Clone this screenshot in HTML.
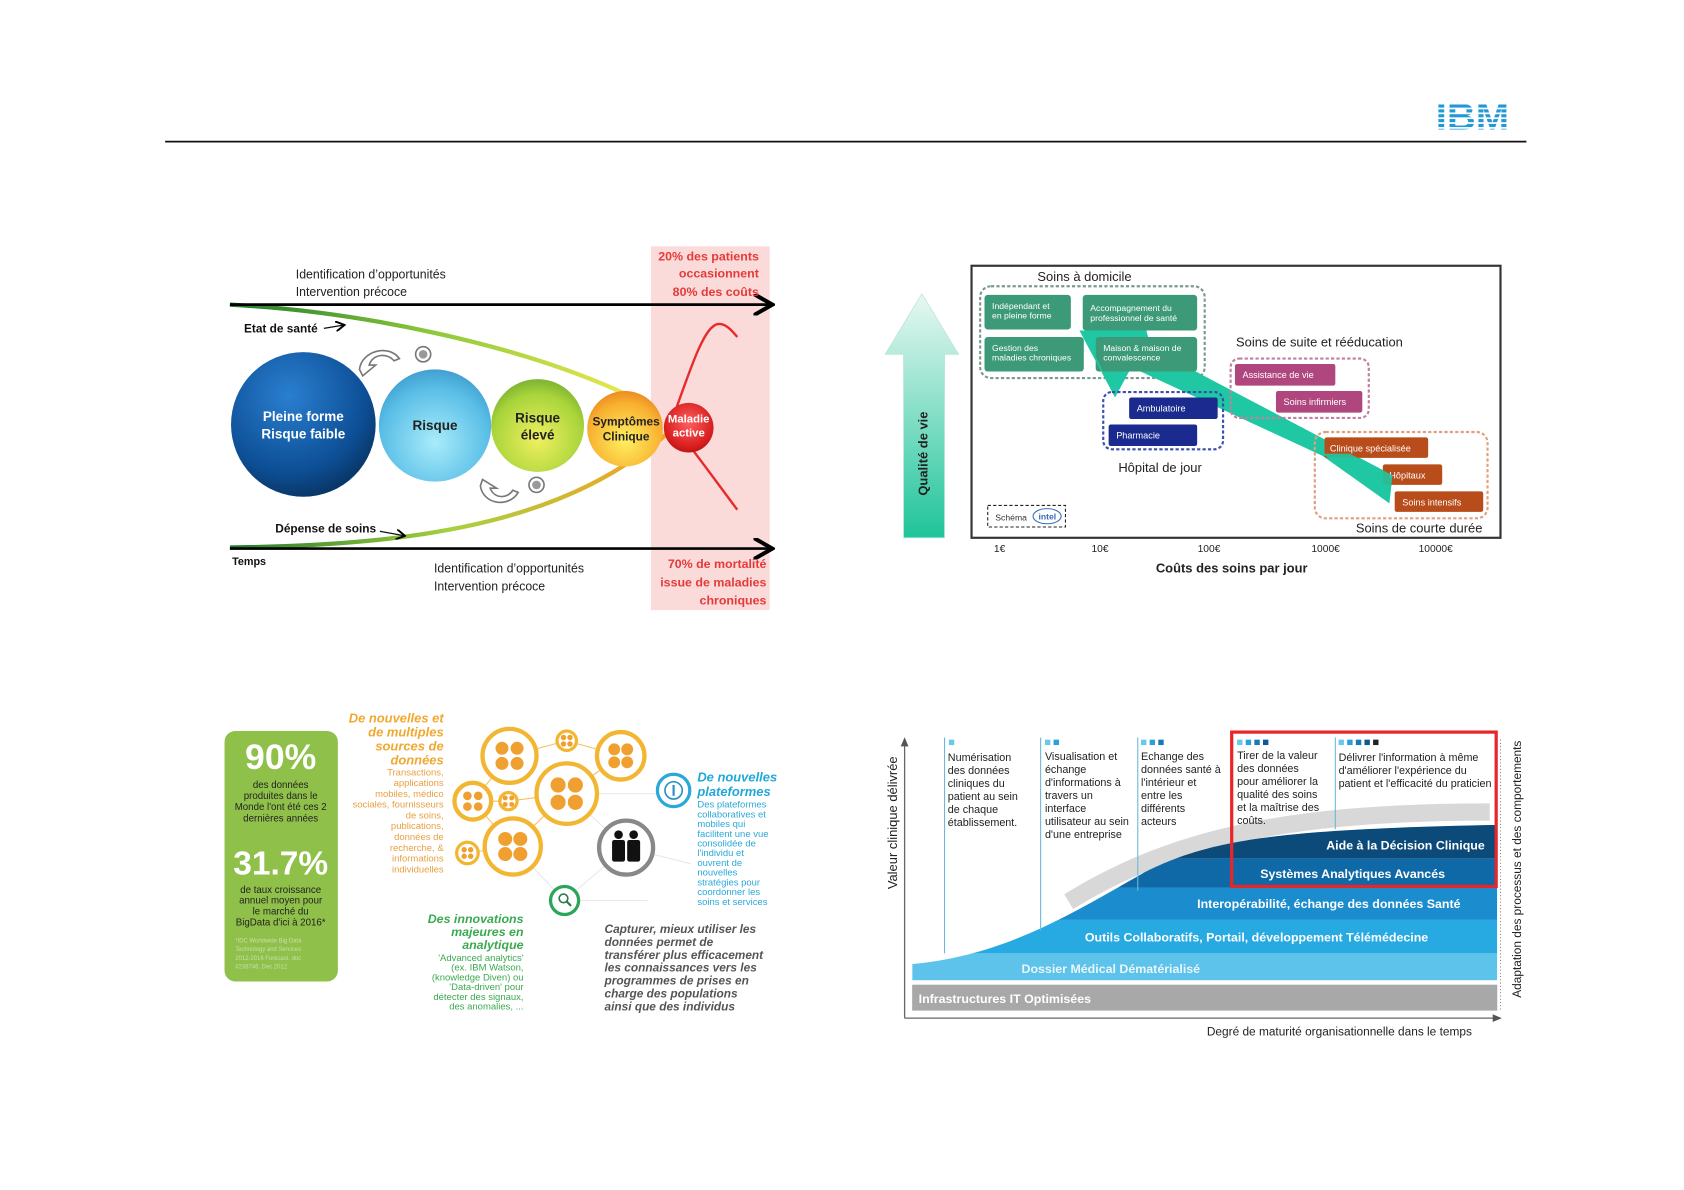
<!DOCTYPE html>
<html><head><meta charset="utf-8"><style>
html,body{margin:0;padding:0;background:#fff;}
svg{display:block;font-family:"Liberation Sans",sans-serif;}
</style></head><body>
<svg width="1684" height="1190" viewBox="0 0 1560 1102" xmlns="http://www.w3.org/2000/svg">
<defs>
<radialGradient id="gb1" cx="40%" cy="30%" r="75%"><stop offset="0" stop-color="#2a7fd0"/><stop offset="0.7" stop-color="#0d4f96"/><stop offset="1" stop-color="#08325f"/></radialGradient>
<radialGradient id="gb2" cx="50%" cy="65%" r="70%"><stop offset="0" stop-color="#a8ecfa"/><stop offset="0.7" stop-color="#58bde6"/><stop offset="1" stop-color="#3a96c8"/></radialGradient>
<radialGradient id="gb3" cx="50%" cy="65%" r="70%"><stop offset="0" stop-color="#f0f060"/><stop offset="0.7" stop-color="#a8d43a"/><stop offset="1" stop-color="#70a830"/></radialGradient>
<radialGradient id="gb4" cx="50%" cy="65%" r="70%"><stop offset="0" stop-color="#fff060"/><stop offset="0.7" stop-color="#f8b030"/><stop offset="1" stop-color="#e88020"/></radialGradient>
<radialGradient id="gb5" cx="50%" cy="40%" r="70%"><stop offset="0" stop-color="#ff6060"/><stop offset="0.7" stop-color="#d81e1e"/><stop offset="1" stop-color="#a01010"/></radialGradient>
<linearGradient id="gtop" x1="0" x2="1"><stop offset="0" stop-color="#1e7a2a"/><stop offset="0.5" stop-color="#8cc83a"/><stop offset="1" stop-color="#e8e850"/></linearGradient>
<linearGradient id="gbot" x1="0" x2="1"><stop offset="0" stop-color="#1e7a2a"/><stop offset="0.5" stop-color="#a8d040"/><stop offset="1" stop-color="#f8a020"/></linearGradient>
<linearGradient id="garr" x1="0" y1="1" x2="0" y2="0"><stop offset="0" stop-color="#1fc49a"/><stop offset="1" stop-color="#e8f8f2"/></linearGradient>
<clipPath id="area"><path d="M845,893 C930,885 990,848 1060,808 C1120,778 1180,768 1387,764 L1387,908 L845,908 Z"/></clipPath>
<marker id="ah" markerWidth="8" markerHeight="8" refX="6" refY="4" orient="auto"><path d="M0,0 L7,4 L0,8" fill="none" stroke="#000" stroke-width="1.5"/></marker>
<marker id="ah2" markerWidth="8" markerHeight="8" refX="6" refY="4" orient="auto"><path d="M0,1 L7,4 L0,7 Z" fill="#555"/></marker>
</defs>

<line x1="153" y1="131" x2="1414" y2="131" stroke="#111" stroke-width="1.6"/>
<text x="1364" y="120" text-anchor="middle" font-weight="bold" font-size="34" fill="#1f9ad6" textLength="68" lengthAdjust="spacingAndGlyphs">IBM</text>
<g fill="#fff"><rect x="1325" y="95" width="80" height="1.6"/><rect x="1325" y="99.5" width="80" height="1.6"/><rect x="1325" y="104" width="80" height="1.6"/><rect x="1325" y="108.5" width="80" height="1.6"/><rect x="1325" y="113" width="80" height="1.6"/><rect x="1325" y="117.5" width="80" height="1.6"/></g>

<rect x="603" y="228" width="110" height="337" fill="#fbdada"/>
<path d="M213,282 C330,288 480,318 582,366" fill="none" stroke="url(#gtop)" stroke-width="4"/>
<path d="M213,507 C400,505 530,480 622,398" fill="none" stroke="url(#gbot)" stroke-width="4"/>
<path d="M618,402 C640,340 652,302 665,300 C672,299 678,306 683,312" fill="none" stroke="#e82a2a" stroke-width="2.2"/>
<path d="M618,386 C645,420 665,448 683,472" fill="none" stroke="#e82a2a" stroke-width="2.2"/>
<line x1="213" y1="282" x2="713" y2="282" stroke="#000" stroke-width="2.5" marker-end="url(#ah)"/>
<line x1="213" y1="508" x2="713" y2="508" stroke="#000" stroke-width="2.5" marker-end="url(#ah)"/>
<g font-size="12" fill="#222">
<text x="274" y="258" textLength="139" lengthAdjust="spacingAndGlyphs">Identification d’opportunités</text><text x="274" y="274" textLength="103" lengthAdjust="spacingAndGlyphs">Intervention précoce</text>
<text x="402" y="530" textLength="139" lengthAdjust="spacingAndGlyphs">Identification d’opportunités</text><text x="402" y="547" textLength="103" lengthAdjust="spacingAndGlyphs">Intervention précoce</text>
</g>
<g font-size="11.5" font-weight="bold" fill="#e53a3a" text-anchor="end">
<text x="703" y="241">20% des patients</text><text x="703" y="257">occasionnent</text><text x="703" y="274">80% des coûts</text>
<text x="710" y="526">70% de mortalité</text><text x="710" y="543">issue de maladies</text><text x="710" y="560">chroniques</text>
</g>
<g font-size="11" font-weight="bold" fill="#111">
<text x="226" y="308">Etat de santé</text><text x="255" y="493">Dépense de soins</text><text x="215" y="523" font-size="10">Temps</text>
</g>
<path d="M300,304 L318,301" stroke="#111" stroke-width="1.2" marker-end="url(#ah)"/>
<path d="M352,492 L374,496" stroke="#111" stroke-width="1.2" marker-end="url(#ah)"/>
<circle cx="281" cy="393" r="67" fill="url(#gb1)"/>
<circle cx="403" cy="394" r="52" fill="url(#gb2)"/>
<circle cx="498" cy="394" r="43" fill="url(#gb3)"/>
<circle cx="579" cy="397" r="35" fill="url(#gb4)"/>
<circle cx="638" cy="396" r="23" fill="url(#gb5)"/>
<g font-weight="bold" text-anchor="middle">
<text x="281" y="390" font-size="12.5" fill="#fff">Pleine forme</text><text x="281" y="406" font-size="12.5" fill="#fff">Risque faible</text>
<text x="403" y="398" font-size="12.5" fill="#222">Risque</text>
<text x="498" y="391" font-size="12.5" fill="#222">Risque</text><text x="498" y="407" font-size="12.5" fill="#222">élevé</text>
<text x="580" y="394" font-size="11" fill="#222">Symptômes</text><text x="580" y="408" font-size="11" fill="#222">Clinique</text>
<text x="638" y="391" font-size="10.5" fill="#fff">Maladie</text><text x="638" y="404" font-size="10.5" fill="#fff">active</text>
</g>
<g fill="none" stroke="#777" stroke-width="1.5">
<path d="M333,342 C335,325 360,318 370,332 L365,334 C358,326 345,328 342,338 L348,338 L336,348 Z" fill="#fff"/>
<path d="M445,450 C448,468 472,470 480,456 L475,454 C470,462 458,462 454,452 L460,452 L447,444 Z" fill="#fff"/>
<circle cx="392" cy="328" r="7"/><circle cx="497" cy="449" r="7"/>
</g>
<circle cx="392" cy="328" r="4" fill="#999"/><circle cx="497" cy="449" r="4" fill="#999"/>

<path d="M837,498 L837,328 L820,328 L854,272 L888,328 L875,328 L875,498 Z" fill="url(#garr)" stroke="#bfe6da" stroke-width="0.8"/>
<text transform="translate(859,420) rotate(-90)" text-anchor="middle" font-size="12" font-weight="bold" fill="#222">Qualité de vie</text>
<rect x="900" y="246" width="490" height="252" fill="none" stroke="#333" stroke-width="2"/>
<text x="961" y="260" font-size="12" fill="#222">Soins à domicile</text>
<rect x="908" y="265" width="208" height="85" rx="10" fill="none" stroke="#7a9a90" stroke-width="2" stroke-dasharray="3,2"/>
<polygon points="1000,306 1062,306 1066,322 1290,440 1287,466 1225,422 1048,340 1033,368" fill="#1fc8a2"/>
<g fill="#3d9a78">
<rect x="912" y="273" width="80" height="32" rx="3"/><rect x="1003" y="273" width="106" height="33" rx="3"/>
<rect x="912" y="312" width="92" height="32" rx="3"/><rect x="1015" y="312" width="94" height="32" rx="3"/>
</g>
<polygon points="1000,306 1040,306 1040,312 1015,312 1015,330 1033,368" fill="#1fc8a2"/>
<g font-size="8" fill="#fff">
<text x="919" y="286">Indépendant et</text><text x="919" y="295">en pleine forme</text>
<text x="1010" y="288">Accompagnement du</text><text x="1010" y="297">professionnel de santé</text>
<text x="919" y="325">Gestion des</text><text x="919" y="334">maladies chroniques</text>
<text x="1022" y="325">Maison &amp; maison de</text><text x="1022" y="334">convalescence</text>
</g>
<rect x="1022" y="363" width="111" height="53" rx="8" fill="none" stroke="#3a50b0" stroke-width="2" stroke-dasharray="3,2"/>
<rect x="1046" y="368" width="82" height="20" rx="2" fill="#1a2a8e"/><rect x="1027" y="393" width="82" height="20" rx="2" fill="#1a2a8e"/>
<text x="1053" y="381" font-size="8.5" fill="#fff">Ambulatoire</text><text x="1034" y="406" font-size="8.5" fill="#fff">Pharmacie</text>
<text x="1036" y="437" font-size="12" fill="#222">Hôpital de jour</text>
<text x="1145" y="321" font-size="12" fill="#222">Soins de suite et rééducation</text>
<rect x="1140" y="332" width="128" height="55" rx="8" fill="none" stroke="#c080a0" stroke-width="2" stroke-dasharray="3,2"/>
<rect x="1144" y="337" width="93" height="20" rx="2" fill="#b0467e"/><rect x="1182" y="362" width="80" height="20" rx="2" fill="#b0467e"/>
<text x="1151" y="350" font-size="8.5" fill="#fff">Assistance de vie</text><text x="1189" y="375" font-size="8.5" fill="#fff">Soins infirmiers</text>
<rect x="1218" y="400" width="160" height="80" rx="10" fill="none" stroke="#e0a080" stroke-width="2" stroke-dasharray="3,2"/>
<g fill="#b84c1a"><rect x="1227" y="405" width="96" height="19" rx="2"/><rect x="1281" y="430" width="55" height="19" rx="2"/><rect x="1292" y="455" width="82" height="19" rx="2"/></g>
<g font-size="8.5" fill="#fff"><text x="1232" y="418">Clinique spécialisée</text><text x="1287" y="443">Hôpitaux</text><text x="1299" y="468">Soins intensifs</text></g>
<polygon points="1225,420 1287,466 1290,440 1250,420" fill="#1fc8a2" opacity="0.9"/>
<text x="1256" y="493" font-size="12" fill="#222">Soins de courte durée</text>
<rect x="915" y="468" width="72" height="20" fill="none" stroke="#222" stroke-width="1" stroke-dasharray="3,2"/>
<text x="922" y="482" font-size="8" fill="#333">Schéma</text>
<ellipse cx="970" cy="478" rx="13" ry="7" fill="none" stroke="#3a6ab8" stroke-width="1"/><text x="962" y="481" font-size="8" font-weight="bold" fill="#3a6ab8">intel</text>
<g font-size="9.5" fill="#222" text-anchor="middle"><text x="926" y="511">1€</text><text x="1019" y="511">10€</text><text x="1120" y="511">100€</text><text x="1228" y="511">1000€</text><text x="1330" y="511">10000€</text></g>
<text x="1141" y="530" font-size="12" font-weight="bold" fill="#222" text-anchor="middle">Coûts des soins par jour</text>

<rect x="208" y="677" width="105" height="232" rx="10" fill="#8fc04a"/>
<text x="260" y="712" font-size="33" font-weight="bold" fill="#fff" text-anchor="middle">90%</text>
<g font-size="9" fill="#222" text-anchor="middle"><text x="260" y="730">des données</text><text x="260" y="740">produites dans le</text><text x="260" y="750">Monde l'ont été ces 2</text><text x="260" y="761">dernières années</text></g>
<text x="260" y="810" font-size="31" font-weight="bold" fill="#fff" text-anchor="middle">31.7%</text>
<g font-size="9" fill="#222" text-anchor="middle"><text x="260" y="827">de taux croissance</text><text x="260" y="837">annuel moyen pour</text><text x="260" y="847">le marché du</text><text x="260" y="857">BigData d'ici à 2016*</text></g>
<g font-size="5.5" fill="#c8e0a8"><text x="218" y="873">*IDC Worldwide Big Data</text><text x="218" y="881">Technology and Services</text><text x="218" y="889">2012-2016 Forecast, doc</text><text x="218" y="897">#238746, Dec 2012</text></g>
<g font-weight="bold" font-style="italic" font-size="12" fill="#f0a830" text-anchor="end"><text x="411" y="669">De nouvelles et</text><text x="411" y="682">de multiples</text><text x="411" y="695">sources de</text><text x="411" y="708">données</text></g>
<g font-size="8.8" fill="#e8a040" text-anchor="end"><text x="411" y="718">Transactions,</text><text x="411" y="728">applications</text><text x="411" y="738">mobiles, médico</text><text x="411" y="748">sociales, fournisseurs</text><text x="411" y="758">de soins,</text><text x="411" y="768">publications,</text><text x="411" y="778">données de</text><text x="411" y="788">recherche, &amp;</text><text x="411" y="798">informations</text><text x="411" y="808">individuelles</text></g>
<g stroke="#e8e8e8" stroke-width="1"><line x1="525" y1="735" x2="640" y2="735"/><line x1="525" y1="735" x2="580" y2="785"/><line x1="580" y1="785" x2="523" y2="834"/><line x1="523" y1="834" x2="600" y2="834"/><line x1="580" y1="785" x2="640" y2="800"/><line x1="475" y1="784" x2="523" y2="834"/></g>
<g stroke="#f4c060" stroke-width="1"><line x1="472" y1="700" x2="525" y2="686"/><line x1="525" y1="686" x2="575" y2="700"/><line x1="438" y1="742" x2="471" y2="742"/><line x1="471" y1="742" x2="525" y2="735"/><line x1="575" y1="700" x2="525" y2="735"/><line x1="475" y1="784" x2="525" y2="735"/><line x1="438" y1="742" x2="472" y2="700"/><line x1="438" y1="742" x2="475" y2="784"/><line x1="433" y1="790" x2="475" y2="784"/></g>
<g fill="#fff" stroke="#f2b632" stroke-width="4">
<circle cx="472" cy="700" r="25"/><circle cx="525" cy="686" r="9" stroke-width="3"/><circle cx="575" cy="700" r="22"/><circle cx="525" cy="735" r="28"/><circle cx="438" cy="742" r="17"/><circle cx="471" cy="742" r="8" stroke-width="3"/><circle cx="475" cy="784" r="26"/><circle cx="433" cy="790" r="10" stroke-width="3"/>
</g>
<g fill="#f0a030">
<circle cx="465" cy="693" r="6"/><circle cx="479" cy="693" r="6"/><circle cx="465" cy="707" r="6"/><circle cx="479" cy="707" r="6"/>
<circle cx="569" cy="694" r="5.5"/><circle cx="581" cy="694" r="5.5"/><circle cx="569" cy="706" r="5.5"/><circle cx="581" cy="706" r="5.5"/>
<circle cx="517" cy="727" r="7"/><circle cx="533" cy="727" r="7"/><circle cx="517" cy="743" r="7"/><circle cx="533" cy="743" r="7"/>
<circle cx="433" cy="737" r="4"/><circle cx="443" cy="737" r="4"/><circle cx="433" cy="747" r="4"/><circle cx="443" cy="747" r="4"/>
<circle cx="468" cy="777" r="6.5"/><circle cx="482" cy="777" r="6.5"/><circle cx="468" cy="791" r="6.5"/><circle cx="482" cy="791" r="6.5"/>
<circle cx="522" cy="683" r="2.5"/><circle cx="528" cy="683" r="2.5"/><circle cx="522" cy="689" r="2.5"/><circle cx="528" cy="689" r="2.5"/>
<circle cx="468" cy="739" r="2.3"/><circle cx="474" cy="739" r="2.3"/><circle cx="468" cy="745" r="2.3"/><circle cx="474" cy="745" r="2.3"/>
<circle cx="430" cy="787" r="2.5"/><circle cx="436" cy="787" r="2.5"/><circle cx="430" cy="793" r="2.5"/><circle cx="436" cy="793" r="2.5"/>
</g>
<circle cx="580" cy="785" r="25" fill="#fff" stroke="#888" stroke-width="4"/>
<g fill="#111"><circle cx="573" cy="773" r="4"/><circle cx="587" cy="773" r="4"/><rect x="567" y="778" width="12" height="20" rx="2"/><rect x="581" y="778" width="12" height="20" rx="2"/></g>
<circle cx="523" cy="834" r="13" fill="#fff" stroke="#2aa55a" stroke-width="3"/><circle cx="522" cy="832" r="4" fill="none" stroke="#2a7a4a" stroke-width="1.5"/><line x1="525" y1="835" x2="529" y2="839" stroke="#2a7a4a" stroke-width="2"/>
<circle cx="624" cy="732" r="15" fill="#fff" stroke="#2aa8d8" stroke-width="3"/><circle cx="624" cy="732" r="8" fill="none" stroke="#2a90c0" stroke-width="1.5"/><rect x="623" y="727" width="2" height="10" fill="#2a90c0"/>
<g font-weight="bold" font-style="italic" font-size="12" fill="#22a8d8"><text x="646" y="724">De nouvelles</text><text x="646" y="737">plateformes</text></g>
<g font-size="8.8" fill="#2aa8d8"><text x="646" y="748">Des plateformes</text><text x="646" y="757">collaboratives et</text><text x="646" y="766">mobiles qui</text><text x="646" y="775">facilitent une vue</text><text x="646" y="784">consolidée de</text><text x="646" y="793">l'individu et</text><text x="646" y="802">ouvrent de</text><text x="646" y="811">nouvelles</text><text x="646" y="820">stratégies pour</text><text x="646" y="829">coordonner les</text><text x="646" y="838">soins et services</text></g>
<g font-weight="bold" font-style="italic" font-size="11.5" fill="#3aaa50" text-anchor="end"><text x="485" y="855">Des innovations</text><text x="485" y="867">majeures en</text><text x="485" y="879">analytique</text></g>
<g font-size="8.8" fill="#3aaa50" text-anchor="end"><text x="485" y="890">'Advanced analytics'</text><text x="485" y="899">(ex. IBM Watson,</text><text x="485" y="908">(knowledge Diven) ou</text><text x="485" y="917">'Data-driven' pour</text><text x="485" y="926">détecter des signaux,</text><text x="485" y="935">des anomalies, ...</text></g>
<g font-weight="bold" font-style="italic" font-size="11" fill="#555"><text x="560" y="864">Capturer, mieux utiliser les</text><text x="560" y="876">données permet de</text><text x="560" y="888">transférer plus efficacement</text><text x="560" y="900">les connaissances vers les</text><text x="560" y="912">programmes de prises en</text><text x="560" y="924">charge des populations</text><text x="560" y="936">ainsi que des individus</text></g>

<line x1="838" y1="943" x2="838" y2="684" stroke="#666" stroke-width="1.2" marker-end="url(#ah2)"/>
<line x1="838" y1="943" x2="1390" y2="943" stroke="#666" stroke-width="1.2" marker-end="url(#ah2)"/>
<line x1="1390" y1="935" x2="1390" y2="684" stroke="#888" stroke-width="1" stroke-dasharray="1,2"/>
<text transform="translate(831,762) rotate(-90)" text-anchor="middle" font-size="12" fill="#222">Valeur  clinique délivrée</text>
<text transform="translate(1409,805) rotate(-90)" text-anchor="middle" font-size="11" fill="#222">Adaptation des processus et des comportements</text>
<path d="M990,835 C1080,780 1180,752 1380,752" fill="none" stroke="#d8d8d8" stroke-width="16"/>
<g clip-path="url(#area)">
<rect x="845" y="740" width="542" height="55" fill="#0c4a7a"/>
<rect x="845" y="795" width="542" height="27" fill="#0f69a6"/>
<rect x="845" y="822" width="542" height="30" fill="#1b8dcf"/>
<rect x="845" y="852" width="542" height="31" fill="#27a9e1"/>
<rect x="845" y="883" width="542" height="25" fill="#5dc3ea"/>
</g>
<rect x="845" y="912" width="542" height="24" fill="#a8a8a8"/>
<g font-weight="bold" fill="#fff" font-size="11.5">
<text x="1302" y="787" text-anchor="middle">Aide à la Décision Clinique</text>
<text x="1253" y="813" text-anchor="middle">Systèmes Analytiques Avancés</text>
<text x="1231" y="841" text-anchor="middle">Interopérabilité, échange des données Santé</text>
<text x="1164" y="872" text-anchor="middle">Outils Collaboratifs, Portail, développement Télémédecine</text>
<text x="1029" y="901" text-anchor="middle" fill="#e8f6fc">Dossier Médical Dématérialisé</text>
<text x="851" y="929">Infrastructures IT Optimisées</text>
</g>
<g stroke="#6bb8d8" stroke-width="1"><line x1="875" y1="683" x2="875" y2="883"/><line x1="964" y1="683" x2="964" y2="862"/><line x1="1054" y1="683" x2="1054" y2="825"/><line x1="1237" y1="683" x2="1237" y2="768"/></g>
<g fill="#6ac8ea"><rect x="879" y="685" width="5" height="5"/><rect x="968" y="685" width="5" height="5"/><rect x="1057" y="685" width="5" height="5"/><rect x="1146" y="685" width="5" height="5"/><rect x="1240" y="685" width="5" height="5"/></g>
<g fill="#2aa0d8"><rect x="976" y="685" width="5" height="5"/><rect x="1065" y="685" width="5" height="5"/><rect x="1154" y="685" width="5" height="5"/><rect x="1248" y="685" width="5" height="5"/></g>
<g fill="#1a78b8"><rect x="1073" y="685" width="5" height="5"/><rect x="1162" y="685" width="5" height="5"/><rect x="1256" y="685" width="5" height="5"/></g>
<g fill="#0f5a90"><rect x="1170" y="685" width="5" height="5"/><rect x="1264" y="685" width="5" height="5"/></g>
<rect x="1272" y="685" width="5" height="5" fill="#222"/>
<g font-size="10" fill="#222">
<text x="878" y="705">Numérisation</text><text x="878" y="717">des données</text><text x="878" y="729">cliniques du</text><text x="878" y="741">patient au sein</text><text x="878" y="753">de chaque</text><text x="878" y="765">établissement.</text>
<text x="968" y="704">Visualisation et</text><text x="968" y="716">échange</text><text x="968" y="728">d'informations à</text><text x="968" y="740">travers un</text><text x="968" y="752">interface</text><text x="968" y="764">utilisateur au sein</text><text x="968" y="776">d'une entreprise</text>
<text x="1057" y="704">Echange des</text><text x="1057" y="716">données santé à</text><text x="1057" y="728">l'intérieur et</text><text x="1057" y="740">entre les</text><text x="1057" y="752">différents</text><text x="1057" y="764">acteurs</text>
<text x="1146" y="703">Tirer de la valeur</text><text x="1146" y="715">des données</text><text x="1146" y="727">pour améliorer la</text><text x="1146" y="739">qualité des soins</text><text x="1146" y="751">et la maîtrise des</text><text x="1146" y="763">coûts.</text>
<text x="1240" y="705">Délivrer l'information à même</text><text x="1240" y="717">d'améliorer l'expérience du</text><text x="1240" y="729">patient et l'efficacité du praticien</text>
</g>
<rect x="1141" y="678" width="245" height="143" fill="none" stroke="#e8262a" stroke-width="3"/>
<text x="1118" y="959" font-size="11" fill="#222">Degré de maturité organisationnelle dans le temps</text>
</svg>
</body></html>
